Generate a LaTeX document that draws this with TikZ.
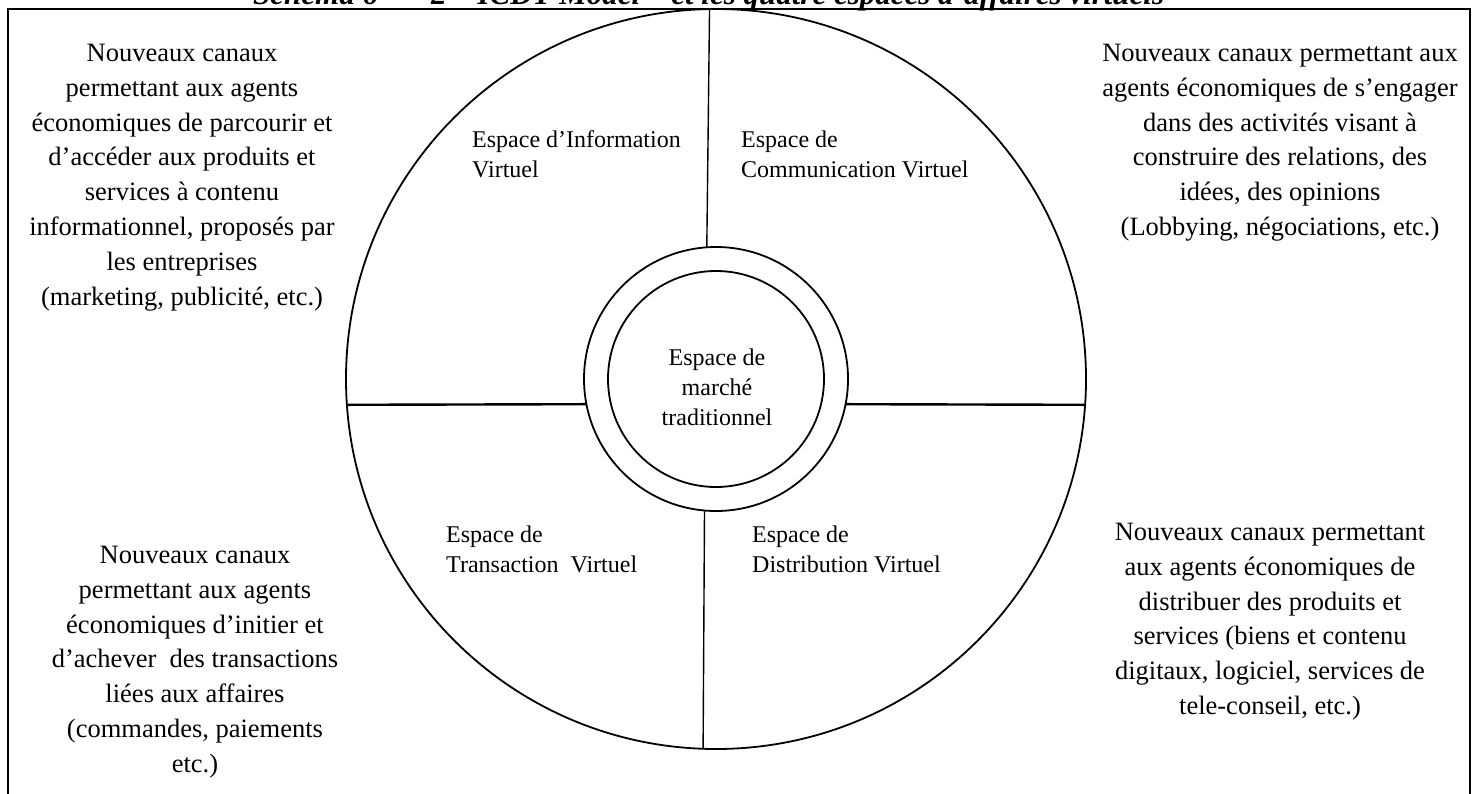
\documentclass[tikz,border=0pt]{standalone}
\usepackage{fontspec}
\setmainfont{Liberation Serif}
\begin{document}
\begin{tikzpicture}[x=1pt,y=-1pt,
  ringline/.style={line width=1.8pt},
  hline/.style={line width=2.4pt},
  vline/.style={line width=1.4pt},
  frameline/.style={line width=2.8pt},
  bigtxt/.style={inner sep=0pt, align=center, anchor=north, font=\fontsize{26.5}{34.8}\selectfont},
  smalltxt/.style={inner sep=0pt, align=left, anchor=north west, font=\fontsize{24}{30}\selectfont},
  titletxt/.style={inner sep=0pt, anchor=base west, font=\fontsize{31}{33}\selectfont\bfseries\itshape}
]
\useasboundingbox (0,0) rectangle (1479,794);
\begin{scope}
  \clip (0,0) rectangle (1479,794);
  \node[titletxt] (title) at (253,5) {Schéma 6\hspace{22pt} – 2 – ICDT Model – et les quatre espaces d’affaires virtuels};
\end{scope}
% frame
\coordinate (fbl) at (8,794);
\coordinate (ftl) at (8,9);
\coordinate (ftr) at (1470,9);
\coordinate (fbr) at (1470,794);
\draw[frameline] (fbl) -- (ftl) -- (ftr) -- (fbr);
% circles
\node[draw, ringline, circle, inner sep=0pt, outer sep=0pt, minimum size=740pt] (outer) at (716,379) {};
\node[draw, ringline, circle, inner sep=0pt, outer sep=0pt, minimum size=264pt] (ring) at (716,379) {};
\node[draw, ringline, circle, inner sep=0pt, outer sep=0pt, minimum size=216pt] (core) at (716,379) {};
% dividing lines
\draw[hline] (outer.184) -- (ring.191.4);
\draw[hline] (ring.-11.4) -- (outer.-4);
\draw[vline] (outer.91.7) -- (ring.94.8);
\draw[vline] (ring.265.2) -- (outer.268.3);
% centre text
\node[inner sep=0pt, align=center, anchor=north, font=\fontsize{24}{30}\selectfont] (market) at (717,348.5) {Espace de\\marché\\traditionnel};
% quadrant labels
\node[smalltxt] (info) at (472,130.5) {Espace d’Information\\Virtuel};
\node[smalltxt] (comm) at (741,130.5) {Espace de\\Communication Virtuel};
\node[smalltxt] (trans) at (446,525.5) {Espace de\\Transaction\ \ Virtuel};
\node[smalltxt] (distr) at (752,525.5) {Espace de\\Distribution Virtuel};
% outer descriptions
\node[bigtxt] (tl) at (182,44) {Nouveaux canaux\\permettant aux agents\\économiques de parcourir et\\d’accéder aux produits et\\services à contenu\\informationnel, proposés par\\les entreprises\\(marketing, publicité, etc.)};
\node[bigtxt] (tr) at (1280,44) {Nouveaux canaux permettant aux\\agents économiques de s’engager\\dans des activités visant à\\construire des relations, des\\idées, des opinions\\(Lobbying, négociations, etc.)};
\node[bigtxt] (bl) at (195,546) {Nouveaux canaux\\permettant aux agents\\économiques d’initier et\\d’achever\ \ des transactions\\liées aux affaires\\(commandes, paiements\\etc.)};
\node[bigtxt] (br) at (1270,523) {Nouveaux canaux permettant\\aux agents économiques de\\distribuer des produits et\\services (biens et contenu\\digitaux, logiciel, services de\\tele-conseil, etc.)};
\end{tikzpicture}
\end{document}
